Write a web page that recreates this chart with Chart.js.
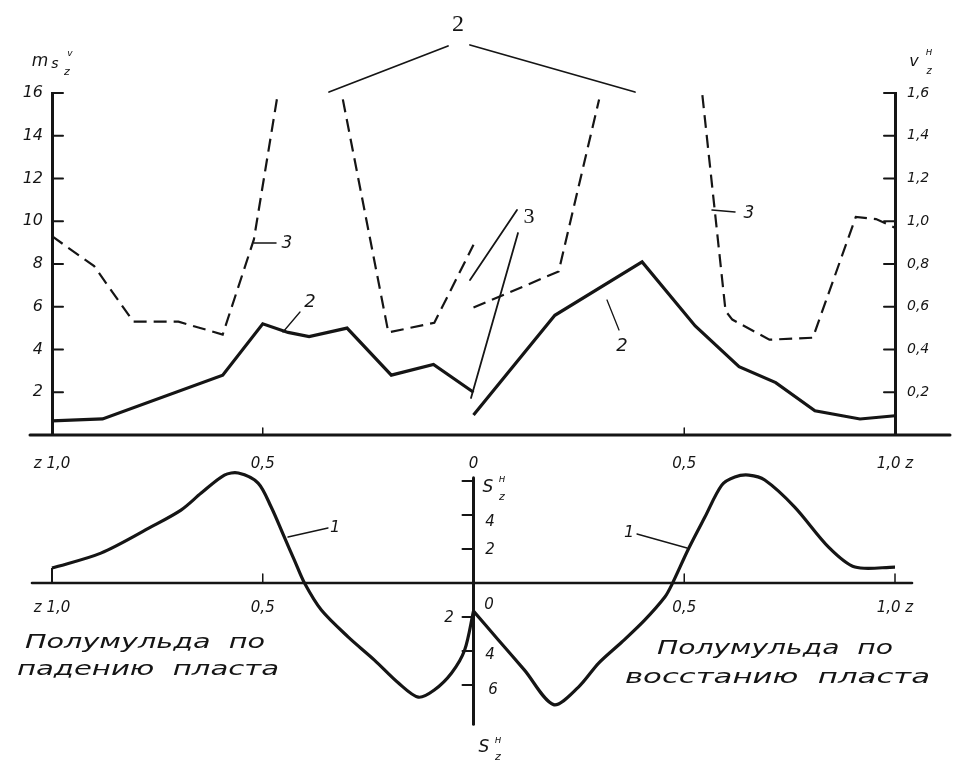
<!DOCTYPE html>
<html><head><meta charset="utf-8">
<script src="https://cdn.jsdelivr.net/npm/chart.js@4.4.1/dist/chart.umd.min.js"></script>
<style>
html,body{margin:0;padding:0;background:#fff;}
#wrap{position:relative;width:964px;height:767px;overflow:hidden;background:#fff;}
canvas{position:absolute;left:0;top:0;}
</style></head><body>
<div id="wrap"><canvas id="topc" width="964" height="767"></canvas><canvas id="botc" width="964" height="767"></canvas></div>
<script>
// ---------- DATA ----------
// z: left half-trough shown as negative (z 1,0 ... 0), right half-trough positive (0 ... 1,0 z)
const zTicks = [-1, -0.5, 0, 0.5, 1];
const topXLabels = ['z 1,0', '0,5', '0', '0,5', '1,0 z'];
const botXLabels = ['z 1,0', '0,5', '', '0,5', '1,0 z'];
const mTicks = [2, 4, 6, 8, 10, 12, 14, 16];
const vTicks = [0.2, 0.4, 0.6, 0.8, 1.0, 1.2, 1.4, 1.6];
const vLabels = ['0,2', '0,4', '0,6', '0,8', '1,0', '1,2', '1,4', '1,6'];
const sTicks = [-6, -4, -2, 2, 4];

// curve 2 (solid) – m, left axis
const zSolidLeft  = [-1.0, -0.88, -0.595, -0.50, -0.44, -0.39, -0.30, -0.195, -0.095, 0];
const mSolidLeft  = [0.66, 0.75, 2.8, 5.2, 4.8, 4.6, 5.0, 2.8, 3.3, 2.0];
const zSolidRight = [0, 0.193, 0.40, 0.526, 0.63, 0.717, 0.81, 0.917, 1.0];
const mSolidRight = [0.94, 5.6, 8.1, 5.1, 3.2, 2.45, 1.13, 0.75, 0.9];

// curve 3 (dashed) – v, right axis
const zDashA = [-1.0, -0.90, -0.807, -0.70, -0.595, -0.521, -0.464];
const vDashA = [0.93, 0.79, 0.53, 0.53, 0.47, 0.915, 1.60];
const zDashB = [-0.31, -0.202, -0.093, 0];
const vDashB = [1.57, 0.48, 0.525, 0.89];
const zDashC = [0, 0.202, 0.298];
const vDashC = [0.596, 0.765, 1.57];
const zDashD = [0.543, 0.598, 0.614, 0.702, 0.805, 0.907, 0.955, 1.0];
const vDashD = [1.59, 0.58, 0.54, 0.446, 0.455, 1.02, 1.01, 0.97];

// curve 1 – S_z (bottom panel)
const zS1Left  = [-1.0, -0.884, -0.765, -0.694, -0.646, -0.591, -0.558, -0.511, -0.480, -0.449, -0.425, -0.401, -0.361, -0.297, -0.235, -0.178, -0.131, -0.093, -0.052, -0.021, 0];
const sS1Left  = [0.88, 1.76, 3.3, 4.29, 5.29, 6.35, 6.47, 5.88, 4.47, 2.71, 1.35, 0, -1.59, -3.18, -4.53, -5.88, -6.71, -6.29, -5.29, -3.94, -1.65];
const zS1Right = [0, 0.059, 0.121, 0.19, 0.249, 0.297, 0.352, 0.406, 0.454, 0.470, 0.511, 0.549, 0.589, 0.620, 0.653, 0.691, 0.762, 0.843, 0.905, 1.0];
const sS1Right = [-1.65, -3.35, -5.12, -7.15, -6.12, -4.71, -3.47, -2.18, -0.82, -0.12, 2.06, 3.88, 5.76, 6.24, 6.35, 6.06, 4.47, 2.1, 0.94, 0.94];
const zS1Stub = [-1.0, -1.0];
const sS1Stub = [0, 0.88];

// ---------- helpers ----------
const pts = (xs, ys) => xs.map((x, i) => ({x: x, y: ys[i]}));
const INK = '#151515';
const FONT = '"DejaVu Sans", "Liberation Sans", sans-serif';
const SERIF = '"Liberation Serif", "DejaVu Serif", serif';

function line(ctx, x1, y1, x2, y2, w) {
  ctx.save(); ctx.strokeStyle = INK; ctx.lineWidth = w || 1.5; ctx.lineCap = 'round';
  ctx.beginPath(); ctx.moveTo(x1, y1); ctx.lineTo(x2, y2); ctx.stroke(); ctx.restore();
}
function txt(ctx, s, x, y, font, o) {
  o = o || {};
  ctx.save(); ctx.font = font; ctx.fillStyle = o.color || INK;
  ctx.textAlign = o.align || 'center'; ctx.textBaseline = 'middle';
  if (o.w) {
    const m = ctx.measureText(s).width;
    ctx.textAlign = 'left';
    ctx.translate(x, y); ctx.scale(o.w / m, 1); ctx.fillText(s, 0, 0);
  } else ctx.fillText(s, x, y);
  ctx.restore();
}

const solid = {borderColor: INK, borderWidth: 3.2, pointRadius: 0, tension: 0, fill: false};
const dash  = {borderColor: INK, borderWidth: 2.2, borderDash: [13, 7], pointRadius: 0, tension: 0, fill: false};
const tickFont = {family: FONT, style: 'italic', size: 15};

// ---------- top panel ----------
const topPlugin = {
  id: 'topDeco',
  afterDraw(chart) {
    const ctx = chart.ctx, xs = chart.scales.x, ys = chart.scales.y, yv = chart.scales.y2;
    const a = chart.chartArea;
    const y0 = ys.getPixelForValue(0);
    line(ctx, 30, y0, 950, y0, 3);
    mTicks.forEach(v => { const p = ys.getPixelForValue(v); line(ctx, a.left, p, a.left + 11, p, 2); });
    vTicks.forEach(v => { const p = yv.getPixelForValue(v); line(ctx, a.right - 11, p, a.right, p, 2); });
    [-0.5, 0.5].forEach(z => { const p = xs.getPixelForValue(z); line(ctx, p, y0 - 7, p, y0, 1.5); });
    // axis titles
    txt(ctx, 'm', 40, 62, 'italic 17px ' + FONT);
    txt(ctx, 's', 55, 64, 'italic 14px ' + FONT);
    txt(ctx, 'z', 67, 72, 'italic 11px ' + FONT);
    txt(ctx, 'v', 70, 54, 'italic 9px ' + FONT);
    txt(ctx, 'v', 914, 62, 'italic 16px ' + FONT);
    txt(ctx, 'н', 929, 52, 'italic 10px ' + FONT);
    txt(ctx, 'z', 929, 71, 'italic 10px ' + FONT);
    // annotation "2" (top)
    txt(ctx, '2', 458, 25, '24px ' + SERIF);
    line(ctx, 448, 46, 329, 92, 1.8);
    line(ctx, 470, 45, 635, 92, 1.8);
    // annotation "3"
    txt(ctx, '3', 529, 217, '22px ' + SERIF);
    line(ctx, 517, 210, 470, 280, 1.8);
    line(ctx, 518, 233, 471, 398, 1.8);
    // small curve labels
    line(ctx, 283, 332, 300, 312, 1.3);
    txt(ctx, '2', 310, 302, 'italic 18px ' + FONT);
    line(ctx, 254, 243, 276, 243, 1.5);
    txt(ctx, '3', 287, 244, 'italic 17px ' + FONT);
    line(ctx, 712, 210, 735, 212, 1.5);
    txt(ctx, '3', 749, 214, 'italic 17px ' + FONT);
    line(ctx, 607, 300, 619, 330, 1.3);
    txt(ctx, '2', 622, 346, 'italic 18px ' + FONT);
  }
};

new Chart(document.getElementById('topc'), {
  type: 'line',
  data: {datasets: [
    Object.assign({label: '2', data: pts(zSolidLeft, mSolidLeft), yAxisID: 'y'}, solid),
    Object.assign({label: '2', data: pts(zSolidRight, mSolidRight), yAxisID: 'y'}, solid),
    Object.assign({label: '3', data: pts(zDashA, vDashA), yAxisID: 'y2'}, dash),
    Object.assign({label: '3', data: pts(zDashB, vDashB), yAxisID: 'y2'}, dash),
    Object.assign({label: '3', data: pts(zDashC, vDashC), yAxisID: 'y2'}, dash),
    Object.assign({label: '3', data: pts(zDashD, vDashD), yAxisID: 'y2'}, dash)
  ]},
  options: {
    responsive: false, animation: false, clip: false,
    layout: {padding: {top: 93, left: 0, right: 0, bottom: 0}},
    plugins: {legend: {display: false}, tooltip: {enabled: false}},
    scales: {
      x: {type: 'linear', min: -1, max: 1, position: 'bottom',
        afterBuildTicks: s => { s.ticks = zTicks.map(v => ({value: v})); },
        afterFit: s => { s.height = 332; },
        grid: {display: false, drawTicks: false}, border: {display: false},
        ticks: {padding: 20, color: INK, font: tickFont, maxRotation: 0, autoSkip: false,
          callback: (v, i) => topXLabels[i]}},
      y: {type: 'linear', min: 0, max: 16, position: 'left',
        afterBuildTicks: s => { s.ticks = mTicks.map(v => ({value: v})); },
        afterFit: s => { s.width = 52; },
        grid: {display: false, drawTicks: false}, border: {display: true, width: 3, color: INK},
        ticks: {padding: 9, color: INK, font: {family: FONT, style: 'italic', size: 16}, autoSkip: false}},
      y2: {type: 'linear', min: 0, max: 1.6, position: 'right',
        afterBuildTicks: s => { s.ticks = vTicks.map(v => ({value: v})); },
        afterFit: s => { s.width = 69; },
        grid: {display: false, drawTicks: false}, border: {display: true, width: 3, color: INK},
        ticks: {padding: 12, color: INK, font: {family: FONT, style: 'italic', size: 14}, autoSkip: false,
          callback: (v, i) => vLabels[i]}}
    }
  },
  plugins: [topPlugin]
});

// ---------- bottom panel ----------
const botPlugin = {
  id: 'botDeco',
  afterDraw(chart) {
    const ctx = chart.ctx, xs = chart.scales.x, ys = chart.scales.y;
    const y0 = ys.getPixelForValue(0), x0 = xs.getPixelForValue(0);
    line(ctx, 32, y0, 912, y0, 2.6);
    line(ctx, x0, ys.getPixelForValue(6.2), x0, ys.getPixelForValue(-8.3), 3);
    sTicks.concat([6]).forEach(v => { const p = ys.getPixelForValue(v); line(ctx, x0 - 11, p, x0, p, 2); });
    [-0.5, 0.5, 1].forEach(z => { const p = xs.getPixelForValue(z); line(ctx, p, y0 - 9, p, y0, 1.5); });
    const f = 'italic 15px ' + FONT;
    txt(ctx, '4', 490, ys.getPixelForValue(4) + 7, f);
    txt(ctx, '2', 490, ys.getPixelForValue(2) + 1, f);
    txt(ctx, '0', 489, ys.getPixelForValue(0) + 22, f);
    txt(ctx, '2', 449, ys.getPixelForValue(-2) + 1, f);
    txt(ctx, '4', 490, ys.getPixelForValue(-4) + 4, f);
    txt(ctx, '6', 493, ys.getPixelForValue(-6) + 5, f);
    txt(ctx, 'S', 488, 488, 'italic 17px ' + FONT);
    txt(ctx, 'н', 502, 479, 'italic 10px ' + FONT);
    txt(ctx, 'z', 502, 497, 'italic 11px ' + FONT);
    txt(ctx, 'S', 484, 748, 'italic 17px ' + FONT);
    txt(ctx, 'н', 498, 740, 'italic 10px ' + FONT);
    txt(ctx, 'z', 498, 757, 'italic 11px ' + FONT);
    // curve labels "1"
    line(ctx, 288, 537, 328, 528, 1.3);
    txt(ctx, '1', 335, 528, 'italic 16px ' + FONT);
    line(ctx, 637, 534, 687, 548, 1.3);
    txt(ctx, '1', 629, 533, 'italic 16px ' + FONT);
    // captions
    const cf = 'italic 20px ' + FONT;
    txt(ctx, 'Полумульда  по', 25, 643, cf, {w: 240});
    txt(ctx, 'падению  пласта', 17, 670, cf, {w: 262});
    txt(ctx, 'Полумульда  по', 657, 649, cf, {w: 236});
    txt(ctx, 'восстанию  пласта', 625, 678, cf, {w: 305});
  }
};

const curve1 = {borderColor: INK, borderWidth: 3.2, pointRadius: 0, fill: false, tension: 0.3};
new Chart(document.getElementById('botc'), {
  type: 'line',
  data: {datasets: [
    Object.assign({label: '1', data: pts(zS1Left, sS1Left)}, curve1),
    Object.assign({label: '1', data: pts(zS1Right, sS1Right)}, curve1),
    {label: '1', data: pts(zS1Stub, sS1Stub), borderColor: INK, borderWidth: 2, pointRadius: 0, tension: 0}
  ]},
  options: {
    responsive: false, animation: false, clip: false,
    layout: {padding: {top: 470, bottom: 42, left: 52, right: 69}},
    plugins: {legend: {display: false}, tooltip: {enabled: false}},
    scales: {
      x: {type: 'linear', min: -1, max: 1, position: {y: 0},
        afterBuildTicks: s => { s.ticks = zTicks.map(v => ({value: v})); },
        grid: {display: false, drawTicks: false}, border: {display: false},
        ticks: {padding: 16, color: INK, font: tickFont, maxRotation: 0, autoSkip: false,
          callback: (v, i) => botXLabels[i]}},
      y: {type: 'linear', min: -8.35, max: 6.65, display: false}
    }
  },
  plugins: [botPlugin]
});
</script>
</body></html>
